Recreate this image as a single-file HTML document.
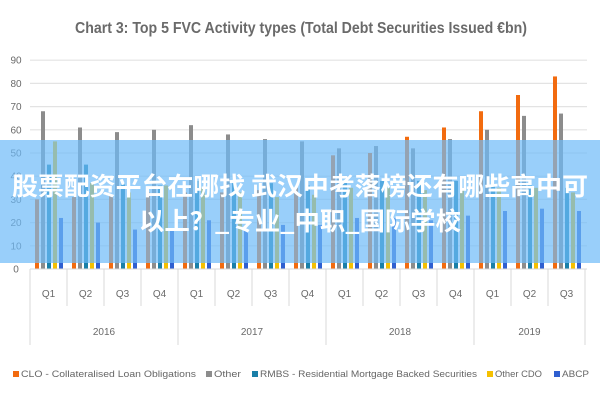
<!DOCTYPE html>
<html><head><meta charset="utf-8"><style>
body{margin:0;background:#fff;width:600px;height:400px;overflow:hidden}
svg{display:block}
.t{font-family:"Liberation Sans",sans-serif;fill:#6a6a6a}
</style></head><body>
<svg width="600" height="400" xmlns="http://www.w3.org/2000/svg">
<text class="t" x="301" y="33" text-anchor="middle" font-size="16" font-weight="bold" textLength="452" lengthAdjust="spacingAndGlyphs" fill="#555">Chart 3: Top 5 FVC Activity types (Total Debt Securities Issued €bn)</text>
<g id="grid" stroke="#e3e3e3" stroke-width="1.2"></g>
<g id="ylab"></g>
<g id="bars"></g>
<g id="axis" stroke="#d9d9d9" stroke-width="1"></g>
<g id="xlab"></g>
<rect x="0" y="140" width="600" height="123" fill="rgba(110,186,248,0.7)"/>
<text x="300" y="195" text-anchor="middle" font-family="'Noto Sans CJK SC',sans-serif" font-weight="bold" font-size="25" fill="#fff" textLength="576" lengthAdjust="spacingAndGlyphs">股票配资平台在哪找 武汉中考落榜还有哪些高中可</text>
<text x="300" y="230" text-anchor="middle" font-family="'Noto Sans CJK SC',sans-serif" font-weight="bold" font-size="25" fill="#fff" textLength="322" lengthAdjust="spacingAndGlyphs">以上？_专业_中职_国际学校</text>
<g font-family="Liberation Sans,sans-serif" font-size="9.5" fill="#666">
<rect x="13" y="371" width="6" height="6" fill="#f26b0f"/><text x="21" y="377" textLength="175" lengthAdjust="spacingAndGlyphs">CLO - Collateralised Loan Obligations</text>
<rect x="206" y="371" width="6" height="6" fill="#8c8c8c"/><text x="214" y="377" textLength="27" lengthAdjust="spacingAndGlyphs">Other</text>
<rect x="252" y="371" width="6" height="6" fill="#1a7fa8"/><text x="260" y="377" textLength="217" lengthAdjust="spacingAndGlyphs">RMBS - Residential Mortgage Backed Securities</text>
<rect x="487" y="371" width="6" height="6" fill="#f5c000"/><text x="495" y="377" textLength="47" lengthAdjust="spacingAndGlyphs">Other CDO</text>
<rect x="554" y="371" width="6" height="6" fill="#2f5fd0"/><text x="562" y="377" textLength="27" lengthAdjust="spacingAndGlyphs">ABCP</text>
</g>
</svg>
<script>
var ns="http://www.w3.org/2000/svg";
function el(p,n,a,t){var e=document.createElementNS(ns,n);for(var k in a)e.setAttribute(k,a[k]);if(t!=null)e.textContent=t;document.getElementById(p).appendChild(e);}
var y0=269,s=2.32,x0=30,gw=37;
for(var v=0;v<=90;v+=10){var y=y0-v*s;if(v>0)el("grid","line",{x1:x0,x2:587,y1:y,y2:y});
el("ylab","text",{x:16,y:y+3.5,"text-anchor":"middle","font-size":"10","class":"t"},v);}
var D=[[30,68,45,55,22],[31,61,45,37,20],[32,59,37,33,17],[33,60,36,36,17],[33,62,38,35,21],[33,58,37,33,17],[34,56,37,31,19],[35,55,36,32,19],
[49,52,38,35,22],[50,53,38,35,22],[57,52,38,34,21],[61,56,38,34,23],[68,60,36,35,25],[75,66,36,35,26],[83,67,35,33,25]];
var C=["#f26b0f","#8c8c8c","#1a7fa8","#f5c000","#2f5fd0"],O=[5,11,17,23,29];
D.forEach(function(g,i){g.forEach(function(v,j){el("bars","rect",{x:x0+i*gw+O[j],y:y0-v*s,width:4,height:v*s,fill:C[j]});});});
el("axis","line",{x1:x0,x2:587,y1:y0,y2:y0});
var Q=["Q1","Q2","Q3","Q4"];
for(var i=0;i<=15;i++){var x=x0+i*gw;var big=(i%4==0)||i==15;el("axis","line",{x1:x,x2:x,y1:y0,y2:big?345:306});
if(i<15)el("xlab","text",{x:x+gw/2,y:297,"text-anchor":"middle","font-size":"10","class":"t"},Q[i%4]);}
["2016","2017","2018","2019"].forEach(function(yr,k){var a=x0+k*4*gw,b=Math.min(x0+(k+1)*4*gw,x0+15*gw);
el("xlab","text",{x:(a+b)/2,y:335,"text-anchor":"middle","font-size":"10","class":"t"},yr);});
</script>
</body></html>
